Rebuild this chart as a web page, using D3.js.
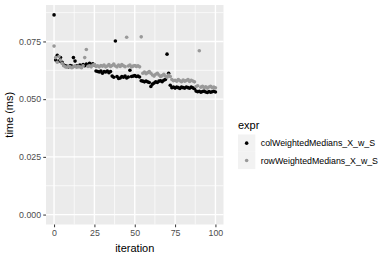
<!DOCTYPE html>
<html><head><meta charset="utf-8">
<script src="https://cdn.jsdelivr.net/npm/d3@7"></script>
<style>body{margin:0;background:#fff}svg{display:block}text{font-family:"Liberation Sans",Arial,sans-serif}</style>
</head><body><svg id="c" width="390" height="260"></svg>
<script>
const seriesNames = ["colWeightedMedians_X_w_S", "rowWeightedMedians_X_w_S"];
const colValues = [
0.0865,0.0670,0.0690,0.0665,0.0680,0.0660,0.0648,0.0645,0.0642,0.0640,
0.0646,0.0643,0.0680,0.0665,0.0645,0.0642,0.0648,0.0640,0.0650,0.0645,
0.0652,0.0648,0.0655,0.0650,0.0653,0.0648,0.0622,0.0620,0.0618,0.0622,
0.0612,0.0620,0.0618,0.0622,0.0615,0.0620,0.0600,0.0595,0.0752,0.0598,
0.0590,0.0592,0.0598,0.0595,0.0600,0.0592,0.0596,0.0625,0.0598,0.0600,
0.0602,0.0598,0.0600,0.0596,0.0580,0.0578,0.0575,0.0578,0.0575,0.0572,
0.0555,0.0565,0.0570,0.0575,0.0572,0.0578,0.0580,0.0576,0.0582,0.0585,
0.0695,0.0612,0.0560,0.0550,0.0552,0.0548,0.0552,0.0550,0.0546,0.0552,
0.0550,0.0548,0.0553,0.0550,0.0547,0.0552,0.0549,0.0545,0.0535,0.0532,
0.0534,0.0530,0.0533,0.0535,0.0531,0.0529,0.0533,0.0530,0.0532,0.0534,
0.0531];
const rowValues = [
0.0730,0.0680,0.0660,0.0685,0.0670,0.0655,0.0645,0.0640,0.0638,0.0642,
0.0640,0.0636,0.0640,0.0645,0.0638,0.0642,0.0640,0.0636,0.0645,0.0680,
0.0715,0.0642,0.0645,0.0640,0.0648,0.0650,0.0642,0.0645,0.0640,0.0646,
0.0643,0.0648,0.0640,0.0644,0.0650,0.0642,0.0646,0.0652,0.0644,0.0640,
0.0648,0.0642,0.0650,0.0645,0.0641,0.0768,0.0644,0.0648,0.0640,0.0643,
0.0646,0.0642,0.0645,0.0640,0.0770,0.0612,0.0618,0.0610,0.0615,0.0620,
0.0612,0.0605,0.0600,0.0608,0.0612,0.0605,0.0598,0.0602,0.0608,0.0600,
0.0595,0.0605,0.0598,0.0585,0.0580,0.0582,0.0578,0.0585,0.0580,0.0576,
0.0583,0.0578,0.0581,0.0585,0.0577,0.0582,0.0579,0.0575,0.0555,0.0558,
0.0710,0.0552,0.0556,0.0550,0.0554,0.0548,0.0553,0.0556,0.0550,0.0552,
0.0549];
const xTicks = [0, 25, 50, 75, 100];
const yTicks = [0, 0.025, 0.05, 0.075];
const yTickLabels = ["0.000", "0.025", "0.050", "0.075"];
const colors = ["#000000", "#999999"];

const svg = d3.select("#c");
const L = 46, R = 223.5, T = 5, B = 224.5;
const x = d3.scaleLinear().domain([-5, 105]).range([L, R]);
const y = d3.scaleLinear().domain([-0.0043, 0.0908]).range([B, T]);

svg.append("rect").attr("x", L).attr("y", T).attr("width", R - L).attr("height", B - T).attr("fill", "#ebebeb");
const g = svg.append("g");
const xMinor = [12.5, 37.5, 62.5, 87.5];
const yMinor = [0.0125, 0.0375, 0.0625, 0.0875];
xMinor.forEach(v => g.append("line").attr("x1", x(v)).attr("x2", x(v)).attr("y1", T).attr("y2", B).attr("stroke", "#fff").attr("stroke-width", 0.7));
yMinor.forEach(v => g.append("line").attr("y1", y(v)).attr("y2", y(v)).attr("x1", L).attr("x2", R).attr("stroke", "#fff").attr("stroke-width", 0.7));
xTicks.forEach(v => g.append("line").attr("x1", x(v)).attr("x2", x(v)).attr("y1", T).attr("y2", B).attr("stroke", "#fff").attr("stroke-width", 1.4));
yTicks.forEach(v => g.append("line").attr("y1", y(v)).attr("y2", y(v)).attr("x1", L).attr("x2", R).attr("stroke", "#fff").attr("stroke-width", 1.4));

const xAxis = d3.axisBottom(x).tickValues(xTicks).tickSize(2.75).tickPadding(2.2).tickFormat(d3.format("d"));
const gx = svg.append("g").attr("transform", `translate(0,${B})`).call(xAxis);
const yAxis = d3.axisLeft(y).tickValues(yTicks).tickSize(2.75).tickPadding(2.2).tickFormat((d, i) => yTickLabels[i]);
const gy = svg.append("g").attr("transform", `translate(${L},0)`).call(yAxis);
[gx, gy].forEach(a => {
  a.select(".domain").remove();
  a.selectAll(".tick line").attr("stroke", "#333333").attr("stroke-width", 1);
  a.selectAll(".tick text").attr("fill", "#4d4d4d").style("font-size", "8.8px");
});

const data = [colValues, rowValues];
data.forEach((vals, si) => {
  svg.append("g").selectAll("circle").data(vals).join("circle")
    .attr("cx", (d, i) => x(i)).attr("cy", d => y(d)).attr("r", 1.8).attr("fill", colors[si]);
});

svg.append("text").attr("x", (L + R) / 2).attr("y", 252).attr("text-anchor", "middle").style("font-size", "11px").attr("fill", "#000").text("iteration");
svg.append("text").attr("transform", `translate(13,${(T + B) / 2}) rotate(-90)`).attr("text-anchor", "middle").style("font-size", "11px").attr("fill", "#000").text("time (ms)");

const lg = svg.append("g").attr("transform", "translate(238,0)");
lg.append("text").attr("x", 0).attr("y", 129).style("font-size", "11px").text("expr");
seriesNames.forEach((n, i) => {
  const ky = 134.5 + i * 17.3;
  lg.append("rect").attr("x", 0).attr("y", ky).attr("width", 17.3).attr("height", 17.3).attr("fill", "#f2f2f2");
  lg.append("circle").attr("cx", 8.65).attr("cy", ky + 8.65).attr("r", 1.8).attr("fill", colors[i]);
  lg.append("text").attr("x", 22.8).attr("y", ky + 8.65).attr("dy", "0.35em").style("font-size", "8.8px").attr("fill", "#000").text(n);
});
</script></body></html>
